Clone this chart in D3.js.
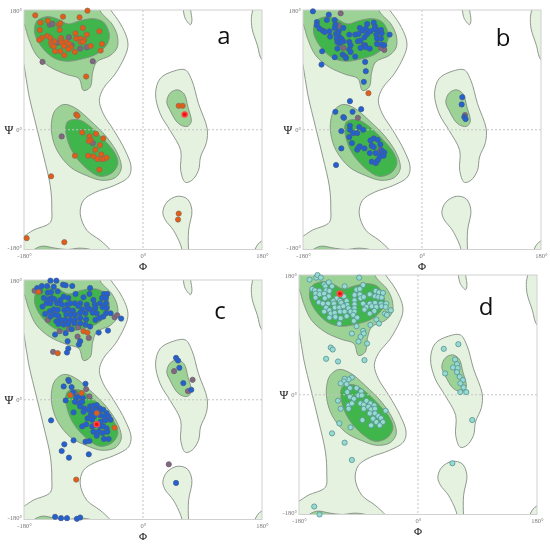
<!DOCTYPE html>
<html>
<head>
<meta charset="utf-8">
<script src="https://cdn.jsdelivr.net/npm/d3@7"></script>
<style>
html, body { margin: 0; padding: 0; background: #fff; }
svg { display: block; filter: blur(0.3px); }
</style>
</head>
<body>
<script>
// allowed regions, [phi, psi] in degrees, some run past the frame and get clipped
const outerLeft = [[-60,195],[-49,180],[-34,159],[-24,137],[-23,124],[-28,109],[-42,84],[-60,62],[-66,44],[-60,24],[-44,-1],[-27,-31],[-18,-56],[-22,-71],[-44,-84],[-72,-94],[-90,-106],[-95,-126],[-85,-151],[-65,-166],[-49,-181],[-40,-195],[-120,-215],[-215,-215],[-195,-168],[-180,-160],[-166,-151],[-140,-139],[-138,-119],[-140,-86],[-150,-41],[-161,4],[-173,54],[-180,97],[-190,140],[-215,215],[-120,215]];
const outerRight = [[19,54],[26,77],[46,88],[64,90],[74,74],[84,39],[97,2],[96,-19],[87,-41],[84,-61],[74,-76],[64,-79],[57,-61],[57,-31],[41,-1],[26,24]];
const outerLower = [[30,-124],[36,-109],[52,-100],[67,-104],[74,-121],[69,-151],[69,-181],[71,-192],[57,-192],[59,-181],[46,-151],[34,-136]];
const outerSmallTop = [[61,180],[64,167],[72,158],[74,164],[72,180],[71,190],[60,190]];
const outerTopRight = [[180,105],[173,127],[165,152],[164,170],[166,180],[168,195],[195,195],[195,100]];
const outerBottomRight = [[180,-167],[174,-172],[169,-181],[167,-192],[195,-192],[195,-162]];
const midTop = [[-60,195],[-65,180],[-47,159],[-39,142],[-39,124],[-49,112],[-70,102],[-76,87],[-80,64],[-90,59],[-97,77],[-115,83],[-140,94],[-161,112],[-173,137],[-180,159],[-195,180],[-200,200],[-120,205]];
const midBottom = [[-166,-181],[-153,-175],[-133,-178],[-115,-180],[-95,-178],[-77,-181],[-72,-187],[-171,-187]];
const midCentre = [[-138,14],[-133,29],[-120,38],[-103,33],[-80,14],[-55,-11],[-37,-39],[-33,-59],[-42,-72],[-62,-76],[-85,-69],[-110,-56],[-130,-31],[-138,-6]];
const midRight = [[36,42],[41,55],[52,60],[62,54],[68,34],[73,12],[67,5],[54,9],[41,29]];
const coreTop = [[-164,154],[-160,164],[-145,170],[-128,166],[-113,159],[-95,164],[-75,167],[-60,162],[-51,144],[-54,129],[-70,114],[-90,107],[-115,103],[-135,108],[-153,124],[-163,142]];
const coreCentre = [[-117,4],[-113,13],[-97,15],[-80,5],[-60,-14],[-42,-36],[-38,-51],[-47,-65],[-65,-70],[-82,-61],[-103,-39],[-113,-19]];

const lightRegions = [outerLeft, outerRight, outerLower, outerSmallTop, outerTopRight, outerBottomRight];
const mediumRegions = [midTop, midBottom, midCentre, midRight];
const darkRegions = [coreTop, coreCentre];

// panel a
const aOrange = [[-163,172],[-121,170],[-96,169],[-84,179],[-144,164],[-155,161],[-127,158],[-125,160],[-126,150],[-156,150],[-91,153],[-66,148],[-102,145],[-85,143],[-145,141],[-140,138],[-153,138],[-157,135],[-124,138],[-124,134],[-101,137],[-95,137],[-89,135],[-134,133],[-139,131],[-116,132],[-123,131],[-112,129],[-94,132],[-91,132],[-138,127],[-135,125],[-120,126],[-109,124],[-113,121],[-133,118],[-125,118],[-103,117],[-79,126],[-62,129],[-64,119],[-119,112],[-86,80],[-101,23],[-99,21],[-92,-4],[-71,-6],[-60,-13],[-81,-10],[-79,-15],[-82,-17],[-65,-23],[-72,-30],[-103,-39],[-83,-39],[-75,-40],[-63,-37],[-69,-44],[-63,-44],[-59,-44],[-55,-42],[-66,-60],[-139,-70],[54,36],[60,36],[54,-126],[53,-135],[-176,-163],[-119,-169]];
const aMauve = [[-141,158],[-137,159],[-112,139],[-129,131],[-108,127],[-95,122],[-85,124],[-76,103],[-152,102],[-123,-10],[-76,-20]];
const aRed = [[63,23]];

// panel b
const bBlue = [[-165,178],[-141,173],[-144,165],[-132,165],[-159,162],[-159,157],[-155,152],[-150,149],[-147,147],[-140,148],[-139,140],[-131,158],[-132,153],[-119,153],[-126,148],[-130,144],[-127,143],[-125,139],[-129,137],[-122,137],[-119,133],[-128,132],[-125,130],[-123,132],[-110,132],[-108,127],[-128,122],[-110,121],[-108,117],[-120,113],[-116,110],[-115,108],[-132,109],[-151,118],[-152,98],[-101,110],[-110,143],[-101,143],[-96,144],[-94,153],[-90,149],[-83,159],[-73,161],[-71,155],[-85,152],[-83,144],[-87,139],[-78,148],[-72,151],[-66,149],[-62,150],[-61,145],[-69,143],[-68,137],[-62,137],[-49,143],[-68,129],[-61,128],[-57,127],[-97,133],[-93,134],[-88,127],[-93,123],[-86,127],[-79,122],[-85,124],[-86,102],[-85,88],[-88,72],[-109,43],[-105,27],[-92,31],[-131,27],[-119,19],[-118,18],[-109,6],[-109,0],[-104,-5],[-122,-2],[-98,-5],[-95,4],[-89,0],[-110,-11],[-106,-20],[-122,-28],[-130,-53],[-94,-25],[-87,-28],[-98,-30],[-96,-27],[-78,-16],[-73,-13],[-67,-15],[-76,-24],[-73,-26],[-63,-22],[-79,-35],[-70,-35],[-61,-31],[-57,-34],[-62,-37],[-58,-39],[-64,-41],[-76,-48],[-70,-50],[-67,-46],[61,49],[60,38],[64,19],[66,16]];
const bMauve = [[-123,175],[-126,157],[-119,123],[-57,120],[-62,123],[-97,18],[-76,-24],[-63,-30],[65,22]];
const bOrange = [[-81,55]];

// panel c
const cBlue = [[-140,179],[-131,179],[-153,171],[-145,171],[-135,170],[-121,173],[-117,172],[-107,171],[-80,168],[-160,168],[-156,163],[-144,161],[-139,162],[-129,163],[-113,153],[-102,159],[-90,154],[-81,159],[-59,159],[-54,159],[-150,153],[-143,151],[-138,153],[-134,151],[-125,150],[-120,155],[-103,145],[-95,145],[-75,150],[-62,153],[-56,153],[-152,140],[-146,145],[-140,145],[-130,145],[-123,143],[-115,143],[-110,145],[-98,141],[-85,143],[-73,143],[-65,145],[-56,145],[-148,129],[-141,133],[-135,136],[-129,135],[-119,135],[-113,136],[-106,134],[-92,136],[-84,138],[-80,136],[-72,138],[-61,139],[-55,138],[-140,125],[-134,128],[-128,126],[-116,128],[-109,128],[-103,128],[-95,131],[-87,130],[-76,131],[-70,130],[-56,130],[-49,130],[-33,122],[-131,118],[-125,120],[-118,120],[-110,120],[-103,120],[-95,123],[-86,121],[-72,120],[-66,123],[-60,125],[-128,114],[-120,113],[-113,114],[-104,115],[-95,115],[-87,113],[-80,110],[-133,98],[-117,100],[-108,106],[-67,101],[-53,104],[-114,88],[-95,88],[-97,83],[-113,77],[-115,71],[-113,30],[-112,28],[-87,24],[-120,20],[-108,19],[-106,11],[-117,-1],[-101,3],[-96,5],[-91,3],[-103,-3],[-97,-5],[-92,-3],[-95,-10],[-89,-13],[-105,-19],[-90,-18],[-80,-10],[-75,-9],[-70,-8],[-65,-13],[-60,-15],[-55,-20],[-82,-15],[-77,-18],[-72,-15],[-67,-18],[-79,-23],[-74,-25],[-65,-23],[-59,-25],[-52,-25],[-84,-28],[-77,-30],[-64,-33],[-57,-31],[-49,-30],[-92,-40],[-86,-37],[-77,-40],[-72,-38],[-65,-40],[-60,-40],[-55,-43],[-75,-48],[-67,-48],[-61,-50],[-54,-48],[-70,-54],[-59,-59],[-52,-59],[-87,-63],[-81,-62],[-105,-61],[-139,-31],[-119,-67],[-123,-77],[-112,-87],[-82,-82],[50,63],[53,59],[55,48],[61,25],[73,15],[50,-125],[-133,-176],[-124,-178],[-115,-178],[-100,-179],[-95,-177]];
const cMauve = [[-164,164],[-144,120],[-43,124],[-39,127],[-82,93],[-99,95],[-112,107],[-98,109],[-126,103],[-136,72],[-86,16],[-103,10],[-81,5],[47,43],[75,30],[68,13],[39,-97]];
const cOrange = [[-158,162],[-90,103],[-84,101],[-129,70],[-110,7],[-93,10],[-70,-20],[-43,-42],[-101,-120]];
const cRed = [[-70,-37]];

// panel d
const dTeal = [[-164,173],[-154,176],[-152,180],[-147,176],[-89,176],[-142,166],[-135,169],[-130,163],[-111,163],[-83,165],[-140,163],[-160,159],[-156,157],[-149,156],[-139,157],[-134,156],[-93,158],[-88,159],[-155,152],[-149,151],[-142,152],[-135,148],[-123,145],[-112,148],[-96,150],[-88,151],[-73,151],[-64,156],[-59,154],[-53,153],[-155,146],[-141,145],[-128,141],[-118,141],[-108,141],[-96,142],[-87,145],[-82,147],[-65,148],[-60,147],[-55,146],[-150,139],[-144,137],[-136,137],[-127,137],[-116,138],[-107,135],[-96,136],[-83,137],[-73,137],[-65,138],[-56,137],[-48,137],[-139,131],[-142,125],[-134,127],[-126,131],[-119,131],[-113,133],[-105,130],[-96,130],[-78,132],[-70,133],[-63,132],[-55,133],[-49,132],[-132,122],[-126,123],[-118,125],[-111,125],[-102,125],[-96,125],[-81,128],[-73,122],[-66,126],[-41,127],[-50,122],[-47,120],[-134,116],[-125,117],[-117,115],[-108,118],[-98,120],[-92,116],[-63,113],[-59,107],[-72,105],[-97,111],[-119,107],[-93,103],[-100,92],[-83,96],[-82,92],[-87,87],[-90,80],[-77,77],[-132,71],[-129,68],[-139,54],[-121,50],[-81,52],[-100,26],[-105,23],[-111,24],[-112,20],[-117,17],[-108,16],[-103,10],[-107,4],[-93,10],[-86,5],[-103,-3],[-97,-6],[-90,-1],[-85,-1],[-121,-9],[-105,-16],[-100,-13],[-105,-21],[-117,-21],[-87,-13],[-82,-15],[-78,-9],[-72,-13],[-66,-16],[-82,-21],[-75,-18],[-71,-22],[-65,-21],[-73,-28],[-65,-28],[-60,-32],[-49,-24],[-68,-36],[-56,-35],[-63,-41],[-53,-41],[-71,-46],[-58,-46],[-84,-38],[-119,-43],[-102,-49],[-130,-58],[-111,-72],[-100,-98],[61,76],[39,69],[56,53],[59,46],[53,41],[60,40],[59,34],[41,32],[63,27],[68,22],[64,17],[69,11],[64,4],[73,4],[82,-38],[52,-103],[-157,-168],[-149,-180]];
const dRed = [[-118,152]];

const tickValues = [-180, 0, 180];
const panelNames = ['a', 'b', 'c', 'd'];

const dotStyles = {
    orange: { fill: '#e95b12', stroke: '#8b6b55', r: 2.6, sw: 0.8 },
    mauve: { fill: '#83677e', stroke: '#6b5f73', r: 2.6, sw: 0.8 },
    blue: { fill: '#1f62d4', stroke: '#46598c', r: 2.6, sw: 0.8 },
    teal: { fill: '#93dccf', stroke: '#5b8f97', r: 2.6, sw: 0.8 },
    red: { fill: '#f01010', stroke: '#ff4a4a', r: 2.6, sw: 1.4 }
};

const panelDots = {
    a: [['mauve', aMauve], ['orange', aOrange], ['red', aRed]],
    b: [['orange', bOrange], ['mauve', bMauve], ['blue', bBlue]],
    c: [['mauve', cMauve], ['blue', cBlue], ['orange', cOrange], ['red', cRed]],
    d: [['teal', dTeal], ['red', dRed]]
};

const panelBoxes = {
    a: { x: 24, y: 10, w: 238, h: 239.5, lx: 224, ly: 36 },
    b: { x: 303, y: 10, w: 238, h: 239.5, lx: 503, ly: 38 },
    c: { x: 24, y: 280, w: 238, h: 239.5, lx: 220, ly: 311 },
    d: { x: 299, y: 275, w: 238, h: 239.5, lx: 486, ly: 307 }
};

const svg = d3.select('body')
    .append('svg')
    .attr('width', 550)
    .attr('height', 550);

const regionLine = d3.line().curve(d3.curveCatmullRomClosed.alpha(0.5));

panelNames.forEach(name => {
    const box = panelBoxes[name];

    const x = d3.scaleLinear().domain([-180, 180]).range([0, box.w]);
    const y = d3.scaleLinear().domain([-180, 180]).range([box.h, 0]);

    regionLine.x(d => x(d[0])).y(d => y(d[1]));

    const g = svg.append('g')
        .attr('transform', `translate(${box.x}, ${box.y})`);

    g.append('clipPath')
        .attr('id', `clip-${name}`)
        .append('rect')
        .attr('width', box.w)
        .attr('height', box.h);

    const plot = g.append('g').attr('clip-path', `url(#clip-${name})`);

    const drawRegions = (regions, fill) => {
        plot.selectAll(null)
            .data(regions)
            .enter()
            .append('path')
            .attr('d', regionLine)
            .attr('fill', fill)
            .attr('stroke', '#858d85')
            .attr('stroke-width', 0.9);
    };

    drawRegions(lightRegions, '#e4f2df');
    drawRegions(mediumRegions, '#9cd296');
    drawRegions(darkRegions, '#3fb54b');

    // dashed lines at zero
    plot.append('line')
        .attr('x1', x(0)).attr('x2', x(0))
        .attr('y1', 0).attr('y2', box.h)
        .attr('stroke', '#c4c4c4')
        .attr('stroke-dasharray', '2,2');
    plot.append('line')
        .attr('x1', 0).attr('x2', box.w)
        .attr('y1', y(0)).attr('y2', y(0))
        .attr('stroke', '#c4c4c4')
        .attr('stroke-dasharray', '2,2');

    g.append('rect')
        .attr('width', box.w)
        .attr('height', box.h)
        .attr('fill', 'none')
        .attr('stroke', '#d0d0d0');

    panelDots[name].forEach(([style, points]) => {
        const s = dotStyles[style];
        g.selectAll(null)
            .data(points)
            .enter()
            .append('circle')
            .attr('cx', d => x(d[0]))
            .attr('cy', d => y(d[1]))
            .attr('r', s.r)
            .attr('fill', s.fill)
            .attr('stroke', s.stroke)
            .attr('stroke-width', s.sw);
    });

    const xAxis = g.append('g')
        .attr('transform', `translate(0, ${box.h})`)
        .call(d3.axisBottom(x).tickValues(tickValues).tickSize(0).tickPadding(4).tickFormat(d => `${d}°`));
    const yAxis = g.append('g')
        .call(d3.axisLeft(y).tickValues(tickValues).tickSize(0).tickPadding(2).tickFormat(d => `${d}°`));

    [xAxis, yAxis].forEach(axis => {
        axis.select('.domain').remove();
        axis.selectAll('text')
            .attr('fill', '#777')
            .style('font-family', '"Liberation Serif", serif')
            .style('font-size', '6.5px');
    });

    // keep the bottom y label clear of the x label under it
    yAxis.selectAll('.tick text')
        .filter(d => d === -180)
        .attr('dy', '-0.05em');

    g.append('text')
        .attr('x', box.w / 2)
        .attr('y', box.h + 20)
        .attr('text-anchor', 'middle')
        .attr('fill', '#111')
        .style('font-family', '"Liberation Serif", serif')
        .style('font-size', '11px')
        .text('Φ');

    g.append('text')
        .attr('x', -15)
        .attr('y', y(0) + 4)
        .attr('text-anchor', 'middle')
        .attr('fill', '#111')
        .style('font-family', '"Liberation Serif", serif')
        .style('font-size', '12px')
        .text('Ψ');

    svg.append('text')
        .attr('x', box.lx)
        .attr('y', box.ly + 8)
        .attr('text-anchor', 'middle')
        .attr('fill', '#111')
        .style('font-family', '"Open Sans", sans-serif')
        .style('font-size', '24px')
        .text(name);
});
</script>
</body>
</html>
